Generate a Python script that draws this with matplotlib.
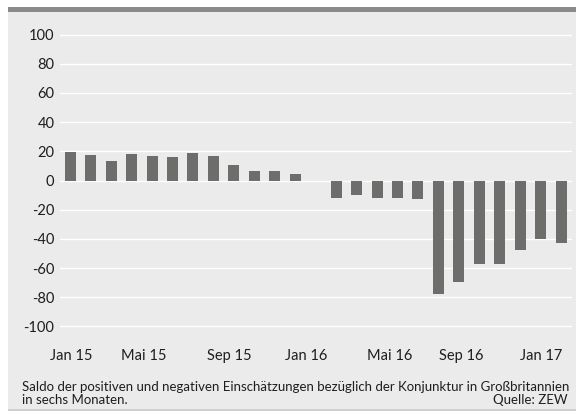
import matplotlib
matplotlib.use("Agg")
import matplotlib.pyplot as plt
from matplotlib.patches import Rectangle

# ZEW economic expectations for Great Britain, monthly Jan 2015 - Jan 2017
months = ["Jan 15", "Feb 15", "Mrz 15", "Apr 15", "Mai 15", "Jun 15", "Jul 15",
          "Aug 15", "Sep 15", "Okt 15", "Nov 15", "Dez 15", "Jan 16", "Feb 16",
          "Mrz 16", "Apr 16", "Mai 16", "Jun 16", "Jul 16", "Aug 16", "Sep 16",
          "Okt 16", "Nov 16", "Dez 16", "Jan 17"]
saldo = [19.5, 17.2, 13.6, 17.9, 16.5, 15.8, 18.6, 16.5, 10.8, 6.6, 6.6, 4.5,
         -0.3, -12.0, -10.0, -12.0, -12.0, -12.7, -77.5, -69.3, -57.0, -57.0,
         -47.5, -40.0, -42.7]
tick_labels = ["Jan 15", "Mai 15", "Sep 15", "Jan 16", "Mai 16", "Sep 16", "Jan 17"]
y_ticks = [100, 80, 60, 40, 20, 0, -20, -40, -60, -80, -100]

caption_lines = ["Saldo der positiven und negativen Einschätzungen bezüglich der "
                 "Konjunktur in Großbritannien",
                 "in sechs Monaten."]
source = "Quelle: ZEW"

plt.rcParams["font.family"] = ["Lato", "DejaVu Sans"]

W, H = 576, 417
fig = plt.figure(figsize=(W / 100, H / 100), dpi=100)
fig.patch.set_facecolor("white")


def frac_rect(x0, y0, w, h, color):
    """Figure-level rectangle given in pixels from the top-left corner."""
    return Rectangle((x0 / W, 1 - (y0 + h) / H), w / W, h / H,
                     transform=fig.transFigure, facecolor=color,
                     edgecolor="none", zorder=-5)


# panel background, top band and bottom rule
fig.patches.append(frac_rect(8, 11.5, 568, 398, "#ebebeb"))
fig.patches.append(frac_rect(8, 6.5, 568, 5.2, "#8a8a8a"))
fig.patches.append(frac_rect(8, 409.3, 568, 1.3, "#cfcfcf"))

ax_top, ax_bot = 31.6, 329.4
ax = fig.add_axes((60 / W, 1 - ax_bot / H, 512 / W, (ax_bot - ax_top) / H))
ax.set_facecolor("none")
ax.set_zorder(2)

x = list(range(len(months)))
ax.bar(x, saldo, width=0.54, color="#6d6d6b", zorder=3)

ax.set_xlim(-0.5, 24.53)
ax.set_ylim(-102, 102)
ax.set_yticks(y_ticks)
ax.set_yticklabels([str(v) for v in y_ticks])
ax.yaxis.grid(True, color="white", linewidth=1.0, zorder=1)
ax.set_axisbelow(True)

tick_pos = [0.07, 3.59, 7.78, 11.52, 15.60, 19.12, 23.03]
ax.set_xticks(tick_pos)
ax.set_xticklabels(tick_labels)

for s in ax.spines.values():
    s.set_visible(False)
ax.tick_params(axis="both", length=0, labelsize=10.5, colors="#1e1e1e")
ax.tick_params(axis="y", pad=4)
ax.tick_params(axis="x", pad=14)

fig.text(22.5 / W, 1 - 391 / H, caption_lines[0], fontsize=9.5,
         color="#1e1e1e", ha="left", va="baseline")
fig.text(22.5 / W, 1 - 404 / H, caption_lines[1], fontsize=9.5,
         color="#1e1e1e", ha="left", va="baseline")
fig.text(567.5 / W, 1 - 404 / H, source, fontsize=9.5, color="#1e1e1e",
         ha="right", va="baseline")

fig.savefig("out.png", dpi=100, facecolor="white")
